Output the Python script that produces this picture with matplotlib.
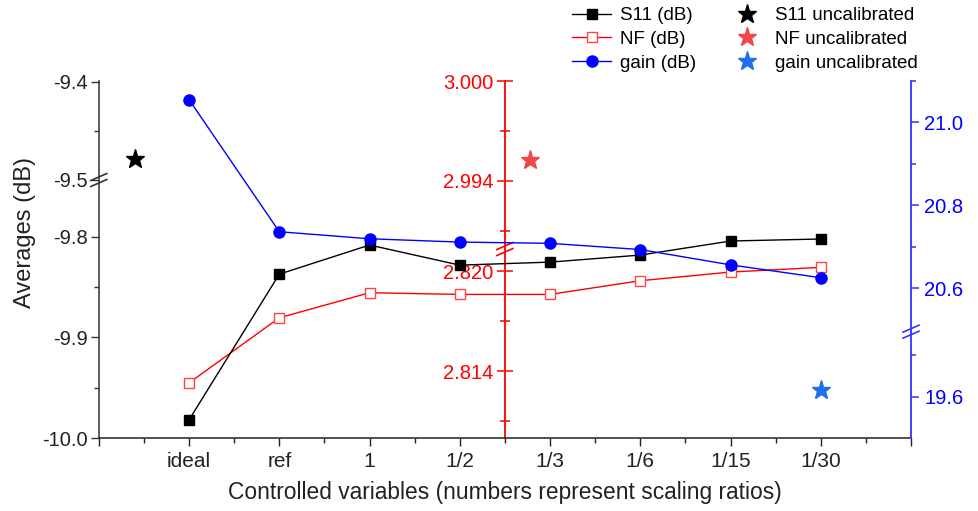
import numpy as np
import matplotlib
matplotlib.use('Agg')
import matplotlib.pyplot as plt
import matplotlib.transforms as mt

plt.rcParams['font.family'] = ['Liberation Sans', 'DejaVu Sans']

# ---------------- data ----------------
categories = ['ideal', 'ref', '1', '1/2', '1/3', '1/6', '1/15', '1/30']
s11_db = [-9.982, -9.837, -9.808, -9.828, -9.825, -9.818, -9.804, -9.802]
nf_db = [2.8133, 2.8172, 2.8187, 2.8186, 2.8186, 2.81942, 2.81994, 2.82022]
gain_db = [21.055, 20.736, 20.719, 20.711, 20.708, 20.693, 20.656, 20.625]

s11_uncal_x, s11_uncal = 0.4, -9.479
nf_uncal_x, nf_uncal = 4.78, 2.99527
gain_uncal_x, gain_uncal = 8.0, 19.616

# broken-axis segments (data knots -> axis length units)
s11_knots = [-10.0, -9.7433, -9.5, -9.399]
s11_len = [0, 258, 258.0001, 357]
nf_knots = [2.810, 2.82132, 2.9899, 3.0000]
nf_len = [0, 189, 189.0001, 357]
gain_knots = [19.5, 19.756, 20.494, 21.098]
gain_len = [0, 106.3, 106.3001, 357]


def piecewise(d, p):
    d = np.asarray(d, float)
    p = np.asarray(p, float)

    def fwd(v):
        v = np.asarray(v, float)
        out = np.interp(v, d, p)
        out = np.where(v < d[0], p[0] + (v - d[0]) * (p[1] - p[0]) / (d[1] - d[0]), out)
        out = np.where(v > d[-1], p[-1] + (v - d[-1]) * (p[-1] - p[-2]) / (d[-1] - d[-2]), out)
        return out

    def inv(u):
        u = np.asarray(u, float)
        out = np.interp(u, p, d)
        out = np.where(u < p[0], d[0] + (u - p[0]) * (d[1] - d[0]) / (p[1] - p[0]), out)
        out = np.where(u > p[-1], d[-1] + (u - p[-1]) * (d[-1] - d[-2]) / (p[-1] - p[-2]), out)
        return out
    return fwd, inv


W, H = 979, 511
fig = plt.figure(figsize=(W / 100, H / 100), dpi=100)
fig.patch.set_facecolor('white')
x0, x1, yb, yt = 98.8, 911, 438, 81
rect = [x0 / W, 1 - yb / H, (x1 - x0) / W, (yb - yt) / H]

ax = fig.add_axes(rect)
ax_nf = ax.twinx()
ax_g = ax.twinx()
ax_nf.set_zorder(1)
ax.set_zorder(2)
ax_g.set_zorder(3)
for a in (ax, ax_nf, ax_g):
    a.patch.set_visible(False)
    for s in a.spines.values():
        s.set_visible(False)
        s.set_linewidth(1.1)

xpos = np.arange(1, len(categories) + 1)
lw = 1.0
FS = 14.5

# left axis: S11
ax.set_yscale('function', functions=piecewise(s11_knots, s11_len))
ax.set_ylim(s11_knots[0], s11_knots[-1])
l1, = ax.plot(xpos, s11_db, '-s', color='black', lw=lw, ms=7, mfc='black', mec='black', label='S11 (dB)')
st1, = ax.plot([s11_uncal_x], [s11_uncal], '*', color='black', ms=14, ls='none', label='S11 uncalibrated')
ax.set_yticks([-10.0, -9.9, -9.8, -9.5, -9.4])
ax.set_yticklabels(['-10.0', '-9.9', '-9.8', '-9.5', '-9.4'])
ax.set_yticks([-9.95, -9.85, -9.45], minor=True)
ax.spines['left'].set_visible(True)
ax.spines['left'].set_color('#333333')
ax.spines['bottom'].set_visible(True)
ax.spines['bottom'].set_color('#222222')
ax.tick_params(axis='y', which='major', direction='out', length=6, width=1, colors='#333333', labelsize=FS, pad=2, labelcolor='#222222')
ax.tick_params(axis='y', which='minor', direction='out', length=3.5, width=1, colors='#333333')
ax.set_ylabel('Averages (dB)', fontsize=17, color='#222222')
ax.yaxis.set_label_coords(-0.077, 0.577)

ax.set_xlim(0, 9)
ax.set_xticks(np.arange(0, 10))
ax.set_xticklabels([''] + categories + [''])
ax.set_xticks(np.arange(0.5, 9, 1.0), minor=True)
ax.tick_params(axis='x', which='major', direction='out', length=6, width=1, colors='#222222', labelsize=15, pad=4)
ax.tick_params(axis='x', which='minor', direction='out', length=3.5, width=1, colors='#222222')
ax.set_xlabel('Controlled variables (numbers represent scaling ratios)', fontsize=16.4, color='#222222', labelpad=7)

# middle axis: NF
red = '#FF0000'
ax_nf.set_yscale('function', functions=piecewise(nf_knots, nf_len))
ax_nf.set_ylim(nf_knots[0], nf_knots[-1])
l2, = ax_nf.plot(xpos, nf_db, '-s', color=red, lw=lw, ms=7, mfc='white', mec='#FF4444', mew=1.0, label='NF (dB)')
st2, = ax_nf.plot([nf_uncal_x], [nf_uncal], '*', color='#F04848', ms=14, ls='none', label='NF uncalibrated')
ax_nf.yaxis.set_ticks_position('left')
ax_nf.spines['left'].set_visible(True)
ax_nf.spines['left'].set_position(('data', 4.5))
ax_nf.spines['left'].set_color(red)
ax_nf.spines['left'].set_linewidth(1.3)
ax_nf.set_yticks([2.814, 2.820, 2.994, 3.000])
ax_nf.set_yticklabels(['2.814', '2.820', '2.994', '3.000'])
ax_nf.set_yticks([2.811, 2.817, 2.991, 2.997], minor=True)
ax_nf.tick_params(axis='y', which='major', direction='inout', length=11, width=1.1, colors=red, labelsize=FS, pad=3)
ax_nf.tick_params(axis='y', which='minor', direction='inout', length=7, width=1.1, colors=red)

# right axis: gain
blue = '#0000FF'
ax_g.set_yscale('function', functions=piecewise(gain_knots, gain_len))
ax_g.set_ylim(gain_knots[0], gain_knots[-1])
l3, = ax_g.plot(xpos, gain_db, '-o', color=blue, lw=lw, ms=8, mfc=blue, mec=blue, label='gain (dB)')
st3, = ax_g.plot([gain_uncal_x], [gain_uncal], '*', color='#1E6FE8', ms=14, ls='none', label='gain uncalibrated')
ax_g.yaxis.set_ticks_position('right')
ax_g.spines['right'].set_visible(True)
ax_g.spines['right'].set_color('#3333FF')
ax_g.spines['right'].set_linewidth(1.3)
ax_g.set_yticks([19.6, 20.6, 20.8, 21.0])
ax_g.set_yticklabels(['19.6', '20.6', '20.8', '21.0'])
ax_g.set_yticks([19.7, 20.7, 20.9, 21.1], minor=True)
ax_g.tick_params(axis='y', which='major', direction='out', length=5.5, width=1.1, colors='#3333FF', labelsize=FS, pad=4, labelcolor=blue)
ax_g.tick_params(axis='y', which='minor', direction='out', length=3.5, width=1.1, colors='#3333FF')


# break marks
def break_mark(a, xfrac, yfrac, color):
    trans = a.transAxes
    for dy in (-3.0, 3.0):
        off = mt.ScaledTranslation(0, dy / 100, fig.dpi_scale_trans)
        a.plot([xfrac - 8 / (x1 - x0), xfrac + 8 / (x1 - x0)],
               [yfrac - 3.5 / (yb - yt), yfrac + 3.5 / (yb - yt)],
               color=color, lw=1.2, clip_on=False, transform=trans + off, zorder=10)


break_mark(ax, 0.0, 258 / 357, '#333333')
break_mark(ax_nf, 4.5 / 9, 189 / 357, red)
break_mark(ax_g, 1.0, 106.3 / 357, '#3333FF')

handles = [l1, l2, l3, st1, st2, st3]
fig.legend(handles, [h.get_label() for h in handles], ncol=2, frameon=False,
           loc='upper left', bbox_to_anchor=(572 / W, 1 - 7 / H), bbox_transform=fig.transFigure,
           fontsize=13.5, handlelength=2.1, handletextpad=0.45, columnspacing=1.67,
           labelspacing=0.36, borderpad=0, borderaxespad=0)

fig.savefig('out.png', dpi=100, facecolor='white')
